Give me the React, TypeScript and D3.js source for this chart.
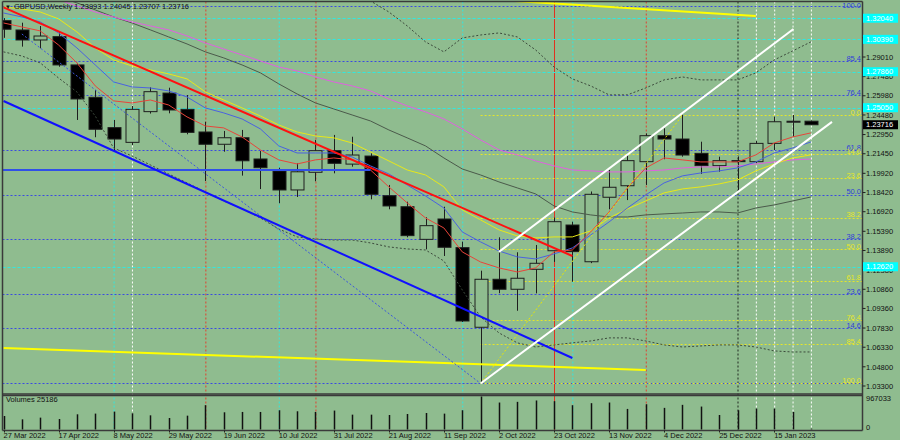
import React, { useEffect } from "react";
import * as d3 from "d3";

// GBPUSD weekly, 27 Mar 2022 .. 29 Jan 2023 (45 bars)
const opens = [1.3185, 1.3112, 1.3034, 1.306, 1.2839, 1.2586, 1.2349, 1.2234, 1.2474, 1.2619, 1.2492, 1.2315, 1.2219, 1.227, 1.2104, 1.201, 1.1862, 1.2, 1.2169, 1.2064, 1.2127, 1.1817, 1.1731, 1.1476, 1.1635, 1.1411, 1.0789, 1.1164, 1.1086, 1.1242, 1.1387, 1.1588, 1.1301, 1.1805, 1.1895, 1.2083, 1.2286, 1.226, 1.2148, 1.2052, 1.2091, 1.2083, 1.2226, 1.2395, 1.23993];
const highs = [1.3205, 1.3169, 1.3143, 1.3099, 1.2855, 1.2643, 1.2409, 1.2518, 1.2664, 1.2661, 1.2604, 1.2395, 1.2323, 1.2331, 1.2166, 1.2036, 1.207, 1.2253, 1.2292, 1.2278, 1.2148, 1.1901, 1.177, 1.1648, 1.1731, 1.1458, 1.1231, 1.1492, 1.1375, 1.1432, 1.1646, 1.1614, 1.185, 1.2018, 1.2135, 1.2304, 1.2344, 1.2448, 1.2239, 1.2122, 1.2124, 1.2245, 1.2435, 1.2448, 1.24045];
const lows = [1.3051, 1.2982, 1.2969, 1.2825, 1.2409, 1.2274, 1.2161, 1.2213, 1.2459, 1.2461, 1.2297, 1.1932, 1.2161, 1.1974, 1.1869, 1.1758, 1.1807, 1.193, 1.1992, 1.2044, 1.1789, 1.1711, 1.1492, 1.1398, 1.1346, 1.083, 1.035, 1.1055, 1.0918, 1.1054, 1.13, 1.1145, 1.129, 1.1711, 1.1783, 1.1901, 1.2102, 1.2122, 1.1987, 1.2005, 1.1845, 1.207, 1.2174, 1.2278, 1.23707];
const closes = [1.3118, 1.3034, 1.3065, 1.2839, 1.2573, 1.2336, 1.226, 1.2492, 1.263, 1.2487, 1.2312, 1.2219, 1.227, 1.209, 1.2036, 1.1862, 1.2004, 1.2169, 1.207, 1.2135, 1.1828, 1.1737, 1.1505, 1.1583, 1.1414, 1.0838, 1.1164, 1.1086, 1.1172, 1.1289, 1.1614, 1.138, 1.1828, 1.1883, 1.2091, 1.2286, 1.226, 1.2135, 1.2052, 1.2091, 1.2085, 1.2226, 1.2395, 1.2399, 1.23716];
const volumes = [395120, 297300, 347800, 307400, 445200, 465900, 524300, 475600, 415100, 336700, 405400, 712800, 504200, 514600, 513900, 564300, 534100, 514200, 554700, 435300, 434800, 425600, 455100, 484300, 465200, 564800, 967033, 790400, 810200, 850600, 830100, 712300, 771500, 790900, 603400, 741200, 633800, 722500, 672100, 425700, 564300, 613800, 613200, 514600, 25186];

// moving averages and bands, one value per bar
const maRed = [1.3167, 1.3136, 1.3105, 1.2995, 1.2855, 1.2675, 1.2558, 1.2542, 1.2565, 1.2526, 1.2433, 1.2362, 1.2347, 1.2276, 1.2175, 1.2097, 1.2065, 1.2097, 1.2112, 1.2097, 1.2018, 1.1886, 1.1761, 1.1643, 1.1565, 1.1378, 1.1299, 1.1253, 1.1221, 1.1253, 1.1378, 1.1393, 1.1534, 1.169, 1.1878, 1.2034, 1.2112, 1.2097, 1.2081, 1.2081, 1.2081, 1.2136, 1.2229, 1.2276, 1.2308];
const maBlue = [1.3245, 1.3214, 1.3175, 1.3089, 1.2972, 1.2839, 1.2706, 1.2667, 1.2659, 1.2636, 1.2589, 1.2503, 1.2464, 1.2417, 1.2339, 1.2206, 1.2151, 1.2151, 1.2151, 1.212, 1.205, 1.1987, 1.1901, 1.1815, 1.1721, 1.1534, 1.1456, 1.1385, 1.1339, 1.1323, 1.1362, 1.1409, 1.151, 1.1612, 1.1721, 1.1823, 1.1917, 1.1972, 1.1995, 1.2011, 1.2034, 1.2081, 1.2151, 1.219, 1.2237];
const maYellow = [1.3292, 1.3277, 1.3253, 1.3199, 1.3097, 1.2972, 1.2878, 1.2831, 1.28, 1.2769, 1.273, 1.2628, 1.2565, 1.2503, 1.244, 1.237, 1.2315, 1.2284, 1.2269, 1.2229, 1.2159, 1.2089, 1.2018, 1.1979, 1.1886, 1.1706, 1.1628, 1.155, 1.1503, 1.1487, 1.1495, 1.1495, 1.1542, 1.1643, 1.1714, 1.1776, 1.1839, 1.187, 1.1886, 1.1909, 1.194, 1.2011, 1.2065, 1.2112, 1.2136];
const maMagenta = [1.3441, 1.341, 1.3378, 1.3347, 1.33, 1.3253, 1.3214, 1.3175, 1.3144, 1.3113, 1.3066, 1.3011, 1.2964, 1.2917, 1.287, 1.2823, 1.2792, 1.2745, 1.2706, 1.2675, 1.2636, 1.2573, 1.2519, 1.2472, 1.2417, 1.2339, 1.2253, 1.2175, 1.2136, 1.2089, 1.205, 1.2018, 1.2011, 1.2003, 1.2003, 1.2011, 1.2018, 1.2034, 1.2042, 1.2042, 1.205, 1.2065, 1.2081, 1.2097, 1.2104];
const maGray = [1.3519, 1.3464, 1.341, 1.337, 1.3324, 1.3269, 1.3214, 1.3167, 1.3113, 1.3058, 1.3003, 1.2941, 1.2894, 1.2839, 1.2777, 1.2691, 1.2612, 1.2542, 1.2495, 1.2448, 1.2401, 1.2331, 1.2269, 1.2206, 1.2112, 1.2026, 1.1979, 1.1925, 1.1878, 1.1831, 1.1737, 1.169, 1.1667, 1.1651, 1.1651, 1.1667, 1.1675, 1.1682, 1.169, 1.169, 1.1682, 1.1721, 1.1745, 1.1776, 1.1807];
const bandUpStart = 18;
const bandUp = [1.3542, 1.3425, 1.3339, 1.3253, 1.3144, 1.3019, 1.2941, 1.305, 1.3073, 1.3089, 1.3058, 1.2956, 1.2823, 1.273, 1.2675, 1.2605, 1.2605, 1.2659, 1.2722, 1.2745, 1.2722, 1.2722, 1.2722, 1.2777, 1.2878, 1.2948, 1.3019];
const bandLow = [1.2941, 1.2909, 1.2855, 1.2737, 1.2628, 1.244, 1.219, 1.2128, 1.2058, 1.1987, 1.1917, 1.1847, 1.1776, 1.1714, 1.1643, 1.1557, 1.1495, 1.1479, 1.1471, 1.1471, 1.1448, 1.1417, 1.1401, 1.1393, 1.1307, 1.1081, 1.087, 1.0745, 1.0667, 1.0635, 1.0651, 1.0667, 1.0682, 1.0706, 1.0706, 1.0682, 1.0651, 1.0635, 1.0643, 1.0651, 1.0651, 1.0635, 1.0604, 1.0596, 1.0596];

const dateLabels = ["27 Mar 2022", "17 Apr 2022", "8 May 2022", "29 May 2022", "19 Jun 2022", "10 Jul 2022", "31 Jul 2022", "21 Aug 2022", "11 Sep 2022", "2 Oct 2022", "23 Oct 2022", "13 Nov 2022", "4 Dec 2022", "25 Dec 2022", "15 Jan 2023"];
const dateIdx = [0, 3, 6, 9, 12, 15, 18, 21, 24, 27, 30, 33, 36, 39, 42];
const priceTicks = ["1.30510", "1.29010", "1.27480", "1.25980", "1.24480", "1.22950", "1.21450", "1.19920", "1.18420", "1.16920", "1.15390", "1.13890", "1.12380", "1.10860", "1.09360", "1.07830", "1.06330", "1.04800", "1.03300"];

// fibo retracements
const blueFiboHi = 1.33, blueFiboLo = 1.035;
const blueFiboLevels = [100, 85.4, 76.4, 61.8, 50, 38.2, 23.6, 14.6, 0];
const yellowFiboHi = 1.2447, yellowFiboLo = 1.035;
const yellowFiboLevels = [0, 14.6, 23.6, 38.2, 50, 61.8, 76.4, 85.4, 100];
const yellowFiboFrom = 26;
const cyanLevels = [1.3204, 1.3039, 1.2786, 1.2505, 1.1262];
const currentPrice = 1.23716;

// trend lines as [bar index, price] anchors
const trendLines: { a: [number, number]; b: [number, number]; color: string; w: number; dash?: string }[] = [
  { a: [0, 1.0627], b: [35, 1.0455], color: "#ffff00", w: 2 },
  { a: [27, 1.3346], b: [41, 1.3222], color: "#ffff00", w: 2 },
  { a: [-0.2, 1.2018], b: [20, 1.2018], color: "#3050e8", w: 2 },
  { a: [1, 1.3081], b: [26, 1.035], color: "#3a55e0", w: 1, dash: "2,2" },
  { a: [26, 1.035], b: [37, 1.2447], color: "#e8e800", w: 1, dash: "2,2" },
  { a: [0, 1.2557], b: [31, 1.0549], color: "#1010ff", w: 2 },
  { a: [0, 1.3289], b: [31, 1.1346], color: "#ff1010", w: 2 },
  { a: [26, 1.035], b: [45.15, 1.2394], color: "#ffffff", w: 2 },
  { a: [27, 1.1378], b: [43.05, 1.312], color: "#ffffff", w: 2 },
];

const vLines = [
  { i: 6, color: "#30e8e0", dash: "2,2" },
  { i: 7, color: "#ffffff", dash: "2,2" },
  { i: 11, color: "#e04030", dash: "2,2" },
  { i: 15, color: "#30e8e0", dash: "2,2" },
  { i: 17, color: "#e04030", dash: "2,2" },
  { i: 25, color: "#30e8e0", dash: "2,2" },
  { i: 30, color: "#e03020", dash: "" },
  { i: 31, color: "#30e8e0", dash: "2,2" },
  { i: 35, color: "#e04030", dash: "2,2" },
  { i: 40, color: "#202820", dash: "2,2" },
  { i: 41, color: "#ffffff", dash: "2,2" },
  { i: 42, color: "#ffffff", dash: "2,2" },
  { i: 43, color: "#ffffff", dash: "2,2" },
  { i: 44, color: "#ffffff", dash: "2,2" },
];

const BG = "#8fbc8f";
const FONT = "'Liberation Sans', Arial, sans-serif";
const L = 2.5, R = 862.5, T = 1.5, PB = 394, VT = 395.5, VB = 430.5;

export default function App() {
  useEffect(() => {
    document.body.style.margin = "0";
  }, []);

  const x = d3.scaleLinear().domain([0, 44]).range([3.5, 810.9]);
  const y = d3.scaleLinear().domain([1.033, 1.2901]).range([386, 57]);
  const yv = d3.scaleLinear().domain([0, 967033]).range([429.5, 396.5]);
  const ma = d3.line<number>().x((_, i) => x(i)).y((d) => y(d));
  const band = d3.line<number>().x((_, i) => x(i + bandUpStart)).y((d) => y(d));

  const bw = 13;

  return (
    <svg width={900} height={440} style={{ display: "block", position: "fixed", left: 0, top: 0 }} fontFamily={FONT}>
      <defs>
        <clipPath id="pc"><rect x={L + 0.5} y={T + 0.5} width={R - L - 1} height={PB - T - 1} /></clipPath>
        <clipPath id="vc"><rect x={L + 0.5} y={VT + 0.5} width={R - L - 1} height={VB - VT - 1} /></clipPath>
      </defs>
      <rect x={0} y={0} width={900} height={440} fill={BG} />

      {/* vertical markers, both panels */}
      {vLines.map((v, k) => (
        <line key={k} x1={x(v.i) + 0.5} x2={x(v.i) + 0.5} y1={T} y2={VB} stroke={v.color} strokeWidth={1} strokeDasharray={v.dash || undefined} />
      ))}

      <g clipPath="url(#pc)">
        {/* cyan levels */}
        {cyanLevels.map((p, k) => (
          <line key={k} x1={L} x2={R} y1={Math.round(y(p)) + 0.5} y2={Math.round(y(p)) + 0.5} stroke="#30e8e0" strokeDasharray="3,2" />
        ))}
        {/* blue fibo */}
        {blueFiboLevels.map((lv, k) => {
          const yy = Math.round(y(blueFiboLo + (lv / 100) * (blueFiboHi - blueFiboLo))) + 0.5;
          return <line key={k} x1={L} x2={R} y1={yy} y2={yy} stroke="#3a4be0" strokeDasharray="2,2" />;
        })}
        {/* yellow fibo */}
        {yellowFiboLevels.map((lv, k) => {
          const yy = Math.round(y(yellowFiboHi - (lv / 100) * (yellowFiboHi - yellowFiboLo))) + 0.5;
          return <line key={k} x1={x(yellowFiboFrom)} x2={R} y1={yy} y2={yy} stroke="#e6e62a" strokeDasharray="2,2" />;
        })}

        {/* candles */}
        {opens.map((o, i) => {
          const c = closes[i];
          const bull = c >= o;
          const top = y(Math.max(o, c));
          const h = Math.max(1, Math.abs(y(o) - y(c)));
          const cx = Math.round(x(i)) + 0.5;
          return (
            <g key={i}>
              <line x1={cx} x2={cx} y1={y(highs[i])} y2={y(lows[i])} stroke="#1e1e1e" />
              <rect x={cx - bw / 2} y={top} width={bw} height={h} fill={bull ? BG : "#000"} stroke="#1e1e1e" strokeWidth={1} />
            </g>
          );
        })}

        {/* bands and moving averages */}
        <path d={ma(bandLow) || ""} fill="none" stroke="#3c4a3c" strokeDasharray="2,2" />
        <path d={band(bandUp) || ""} fill="none" stroke="#3c4a3c" strokeDasharray="2,2" />
        <path d={ma(maGray) || ""} fill="none" stroke="#4b5a4b" />
        <path d={ma(maMagenta) || ""} fill="none" stroke="#e060e0" />
        <path d={ma(maYellow) || ""} fill="none" stroke="#e8e818" />
        <path d={ma(maBlue) || ""} fill="none" stroke="#4a62e0" />
        <path d={ma(maRed) || ""} fill="none" stroke="#e8443a" />

        {/* trend lines */}
        {trendLines.map((t, k) => (
          <line key={k} x1={x(t.a[0])} y1={y(t.a[1])} x2={x(t.b[0])} y2={y(t.b[1])} stroke={t.color} strokeWidth={t.w} strokeDasharray={t.dash} />
        ))}

        {/* fibo labels */}
        {blueFiboLevels.slice(0, -1).map((lv, k) => (
          <text key={k} x={861} y={Math.max(8, y(blueFiboLo + (lv / 100) * (blueFiboHi - blueFiboLo)) - 0.5)} fontSize={7.5} fill="#2f40d8" textAnchor="end">{lv.toFixed(1)}</text>
        ))}
        {yellowFiboLevels.map((lv, k) => (
          <text key={k} x={861} y={y(yellowFiboHi - (lv / 100) * (yellowFiboHi - yellowFiboLo)) - 0.5} fontSize={7.5} fill="#e6e62a" textAnchor="end">{lv.toFixed(1)}</text>
        ))}
      </g>

      {/* volumes */}
      <g clipPath="url(#vc)">
        {volumes.map((v, i) => (
          <line key={i} x1={Math.round(x(i)) + 0.5} x2={Math.round(x(i)) + 0.5} y1={yv(0)} y2={yv(v)} stroke="#111" strokeWidth={1.5} />
        ))}
      </g>

      {/* frames */}
      <line x1={L} x2={R} y1={T} y2={T} stroke="#3a3a3a" strokeWidth={1.5} />
      <line x1={L} x2={L} y1={T} y2={VB} stroke="#3a3a3a" strokeWidth={1.5} />
      <line x1={R} x2={R} y1={T} y2={VB} stroke="#3a3a3a" strokeWidth={1.5} />
      <line x1={L} x2={R} y1={PB} y2={PB} stroke="#3a3a3a" strokeWidth={1.5} />
      <line x1={L} x2={R} y1={VT} y2={VT} stroke="#3a3a3a" strokeWidth={1.5} />
      <line x1={L} x2={R} y1={VB} y2={VB} stroke="#3a3a3a" strokeWidth={1.5} />

      {/* title */}
      <text x={5} y={8.5} fontSize={6} fill="#111">▼</text>
      <text x={14} y={8.5} fontSize={7.5} fill="#111">GBPUSD,Weekly  1.23993 1.24045 1.23707 1.23716</text>
      <text x={6} y={401.5} fontSize={7.5} fill="#111">Volumes 25186</text>

      {/* price axis */}
      {priceTicks.map((t) => (
        <g key={t}>
          <line x1={R} x2={R + 3} y1={y(+t)} y2={y(+t)} stroke="#222" />
          <text x={866} y={y(+t) + 2.7} fontSize={7.5} fill="#111">{t}</text>
        </g>
      ))}
      {cyanLevels.map((p, k) => (
        <g key={k}>
          <rect x={R + 0.5} y={y(p) - 4.5} width={35} height={9} fill="#00ffff" />
          <text x={866} y={y(p) + 2.7} fontSize={7.5} fill="#ffffff">{p.toFixed(5)}</text>
        </g>
      ))}
      <rect x={R + 0.5} y={y(currentPrice) - 4.5} width={35} height={9} fill="#000" />
      <text x={866} y={y(currentPrice) + 2.7} fontSize={7.5} fill="#ffffff">{currentPrice.toFixed(5)}</text>
      <text x={866} y={400.5} fontSize={7.5} fill="#111">967033</text>
      <text x={866} y={429.5} fontSize={7.5} fill="#111">0</text>

      {/* date axis */}
      {dateIdx.map((i, k) => (
        <g key={k}>
          <line x1={Math.round(x(i)) + 0.5} x2={Math.round(x(i)) + 0.5} y1={VB} y2={VB + 2} stroke="#222" />
          <text x={x(i)} y={437.5} fontSize={7.5} fill="#111">{dateLabels[k]}</text>
        </g>
      ))}
    </svg>
  );
}
